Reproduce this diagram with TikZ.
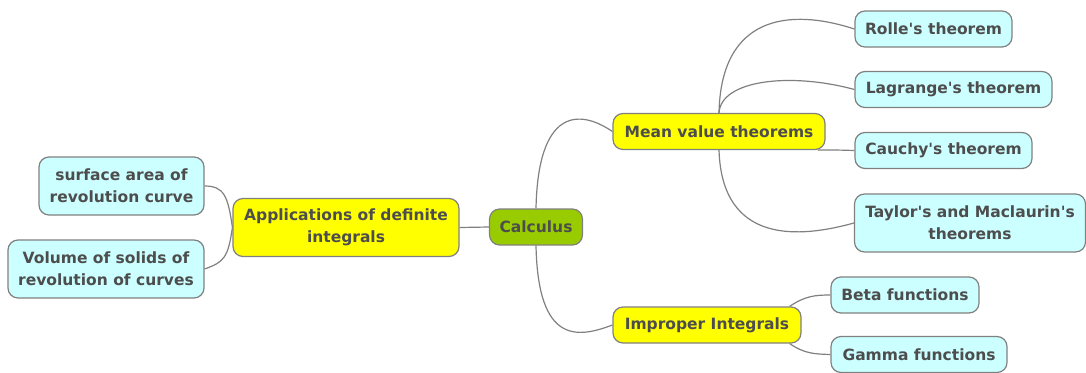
\documentclass[tikz,border=0pt]{standalone}
\usepackage{fontspec}
\setmainfont{DejaVu Sans}
\usetikzlibrary{backgrounds}
\definecolor{rootgreen}{HTML}{99CC00}
\definecolor{topicyellow}{HTML}{FFFF00}
\definecolor{leafcyan}{HTML}{CCFFFF}
\definecolor{boxgray}{HTML}{808080}
\definecolor{textgray}{HTML}{4D4D4D}
\tikzset{
  topic/.style={draw=boxgray, line width=1.2pt, rounded corners=10pt, text=textgray,
    font=\fontsize{15.5}{22}\selectfont\bfseries, align=center,
    inner xsep=10pt, inner ysep=4pt, minimum height=36pt},
  root/.style={topic, fill=rootgreen},
  main/.style={topic, fill=topicyellow},
  leaf/.style={topic, fill=leafcyan},
  twoline/.style={minimum height=58pt},
  branch/.style={draw=boxgray, line width=1.2pt}
}
\begin{document}
\begin{tikzpicture}[x=1pt, y=-1pt]
    \useasboundingbox (0,0) rectangle (1086,372);
    \node[root] (calc) at (536,227) {Calculus};
    \node[main, twoline, minimum width=226pt] (app) at (346,227.5) {Applications of definite\\integrals};
    \node[leaf, twoline, minimum width=165pt] (surf) at (121.5,186) {surface area of\\revolution curve};
    \node[leaf, twoline, minimum width=196pt] (vol) at (106,269) {Volume of solids of\\revolution of curves};
    \node[main, minimum width=212pt] (mvt) at (719,131.5) {Mean value theorems};
    \node[main, minimum width=188pt] (imp) at (707,325) {Improper Integrals};
    \node[leaf, minimum width=157pt] (rolle) at (933.5,29) {Rolle\textquotesingle s theorem};
    \node[leaf, minimum width=197pt] (lag) at (953.5,89.5) {Lagrange\textquotesingle s theorem};
    \node[leaf, minimum width=177pt] (cauchy) at (943.5,150.5) {Cauchy\textquotesingle s theorem};
    \node[leaf, twoline, minimum width=231pt] (taylor) at (970,223) {Taylor\textquotesingle s and Maclaurin\textquotesingle s\\theorems};
    \node[leaf, minimum width=148pt] (beta) at (905,295) {Beta functions};
    \node[leaf, minimum width=176pt] (gamma) at (919,354.5) {Gamma functions};
    \begin{scope}[on background layer]
        \draw[branch] (calc.west) -- (app.east);
        \draw[branch] (calc.north) .. controls (538,110) and (578,108) .. (mvt.west);
        \draw[branch] (calc.south) .. controls (538,345) and (578,338) .. (imp.west);
        \draw[branch] (app.west) .. controls (228,196) and (224,186) .. (surf.east);
        \draw[branch] (app.west) .. controls (228,258) and (224,262) .. (vol.east);
        \draw[branch] (mvt.north) .. controls (721,15) and (790,8) .. (rolle.west);
        \draw[branch] (mvt.north) .. controls (721,80) and (790,72) .. (lag.west);
        \draw[branch] ([xshift=-8pt]mvt.south east) .. controls (838,150) .. (cauchy.west);
        \draw[branch] (mvt.south) .. controls (722,245) and (800,238) .. (taylor.west);
        \draw[branch] ([xshift=-12pt]imp.north east) .. controls (805,296) and (815,295) .. (beta.west);
        \draw[branch] ([xshift=-12pt]imp.south east) .. controls (805,354) and (815,354) .. (gamma.west);
    \end{scope}
\end{tikzpicture}
\end{document}
